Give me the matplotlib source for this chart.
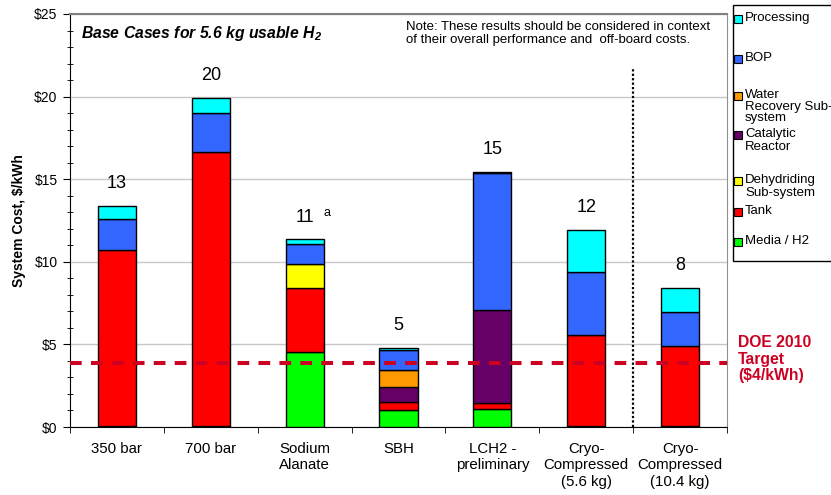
import matplotlib
matplotlib.use("Agg")
import matplotlib.pyplot as plt
from matplotlib.patches import Rectangle
import numpy as np

plt.rcParams['font.family'] = ['Liberation Sans', 'DejaVu Sans']
plt.rcParams['mathtext.fontset'] = 'custom'
plt.rcParams['mathtext.rm'] = 'Liberation Sans:bold:italic'
plt.rcParams['mathtext.bf'] = 'Liberation Sans:bold:italic'

# data ($/kWh)
categories = ["350 bar", "700 bar", "Sodium\nAlanate", "SBH", "LCH2 -\npreliminary",
              "Cryo-\nCompressed\n(5.6 kg)", "Cryo-\nCompressed\n(10.4 kg)"]
media = [0.05, 0.05, 4.52, 1.05, 1.11, 0.05, 0.05]
tank = [10.64, 16.60, 3.87, 0.44, 0.34, 5.54, 4.85]
dehydriding = [0, 0, 1.46, 0, 0, 0, 0]
catalytic = [0, 0, 0, 0.93, 5.61, 0, 0]
water = [0, 0, 0, 1.03, 0, 0, 0]
bop = [1.92, 2.38, 1.23, 1.21, 8.31, 3.77, 2.06]
processing = [0.77, 0.90, 0.28, 0.14, 0.08, 2.55, 1.45]
total_labels = ["13", "20", "11", "5", "15", "12", "8"]
doe_target = 3.9

series = [
    ("Media / H2", media, "#00FF00"),
    ("Tank", tank, "#FF0000"),
    ("Dehydriding\nSub-system", dehydriding, "#FFFF00"),
    ("Catalytic\nReactor", catalytic, "#660066"),
    ("Water\nRecovery Sub-\nsystem", water, "#FF9900"),
    ("BOP", bop, "#3366FF"),
    ("Processing", processing, "#00FFFF"),
]

W, H = 831, 495
fig = plt.figure(figsize=(W / 100, H / 100), dpi=100)
ax = fig.add_axes([70 / W, 1 - 427 / H, 657 / W, 413 / H])

x = np.arange(len(categories)) + 0.5
bottom = np.zeros(len(categories))
for name, vals, col in series:
    vals = np.array(vals)
    mask = vals > 0
    ax.bar(x[mask], vals[mask], width=0.405, bottom=bottom[mask], color=col,
           edgecolor="black", linewidth=1, zorder=3)
    bottom += vals

# totals above bars
for xi, top, lab in zip(x, bottom, total_labels):
    ax.text(xi, top + 1.35, lab, ha="center", va="center", fontsize=13)
ax.annotate("a", (x[2], bottom[2] + 1.35), xytext=(16, 3), textcoords="offset points",
            ha="center", va="center", fontsize=9)

# DOE target
ax.axhline(doe_target, color="#CC0022", lw=2.9, ls=(0, (2.9, 2.3)), zorder=5)
fig.text(738 / W, 1 - 335 / H, "DOE 2010\nTarget\n($4/kWh)", color="#CC0022",
         fontsize=11.3, fontweight="bold", va="top", ha="left", linespacing=1.13)

# separator between cryo cases
ax.plot([6, 6], [0, 21.8], color="black", ls=(0, (1, 1)), lw=1.6, zorder=4)

ax.set_xlim(0, 7)
ax.set_ylim(0, 25)
ax.set_yticks(np.arange(0, 26, 5))
ax.set_yticklabels(["$0", "$5", "$10", "$15", "$20", "$25"], fontsize=10)
ax.set_yticks(np.arange(0, 26, 1), minor=True)
ax.tick_params(axis="y", which="major", direction="out", length=5, pad=4)
ax.tick_params(axis="y", which="minor", direction="inout", length=4)
ax.set_xticks(x)
ax.set_xticklabels(categories, fontsize=10.8, linespacing=1.2)
ax.set_xticks(np.arange(0, 8), minor=True)
ax.tick_params(axis="x", which="major", length=0, pad=11)
ax.tick_params(axis="x", which="minor", direction="out", length=4)
ax.yaxis.grid(True, color="#C8C8C8", lw=1)
ax.set_axisbelow(True)
ax.spines["top"].set_color("#808080")
ax.spines["top"].set_linewidth(1.5)
ax.spines["right"].set_color("#909090")
ax.set_ylabel("System Cost, $/kWh", fontsize=10, fontweight="bold", labelpad=6)

ax.text(0.017, 0.975, "Base Cases for 5.6 kg usable H$_{\\mathbf{2}}$", transform=ax.transAxes,
        fontsize=11.3, fontweight="bold", fontstyle="italic", va="top", ha="left")
fig.text(406 / W, 1 - 21 / H, "Note: These results should be considered in context\n"
         "of their overall performance and  off-board costs.",
         fontsize=9.5, va="top", ha="left", linespacing=1.15)

# legend box drawn by hand to match the uneven layout
fig.add_artist(Rectangle((733 / W, 1 - 261 / H), 100 / W, 256 / H, transform=fig.transFigure,
                         facecolor="white", edgecolor="black", lw=1))
legend_rows = [("Processing", "#00FFFF", 19, 1.0), ("BOP", "#3366FF", 59, 1.0),
               ("Water\nRecovery Sub-\nsystem", "#FF9900", 96, 0.95),
               ("Catalytic\nReactor", "#660066", 135, 1.1),
               ("Dehydriding\nSub-system", "#FFFF00", 181, 1.1),
               ("Tank", "#FF0000", 212, 1.0), ("Media / H2", "#00FF00", 242, 1.0)]
for lab, col, yc, ls in legend_rows:
    fig.add_artist(Rectangle((734 / W, 1 - (yc + 4) / H), 8 / W, 8 / H,
                             transform=fig.transFigure, facecolor=col,
                             edgecolor="black", lw=0.8))
    fig.text(745 / W, 1 - (yc - 7) / H, lab, fontsize=9.5, va="top", ha="left",
             linespacing=ls)

fig.savefig("out.png", dpi=100)
